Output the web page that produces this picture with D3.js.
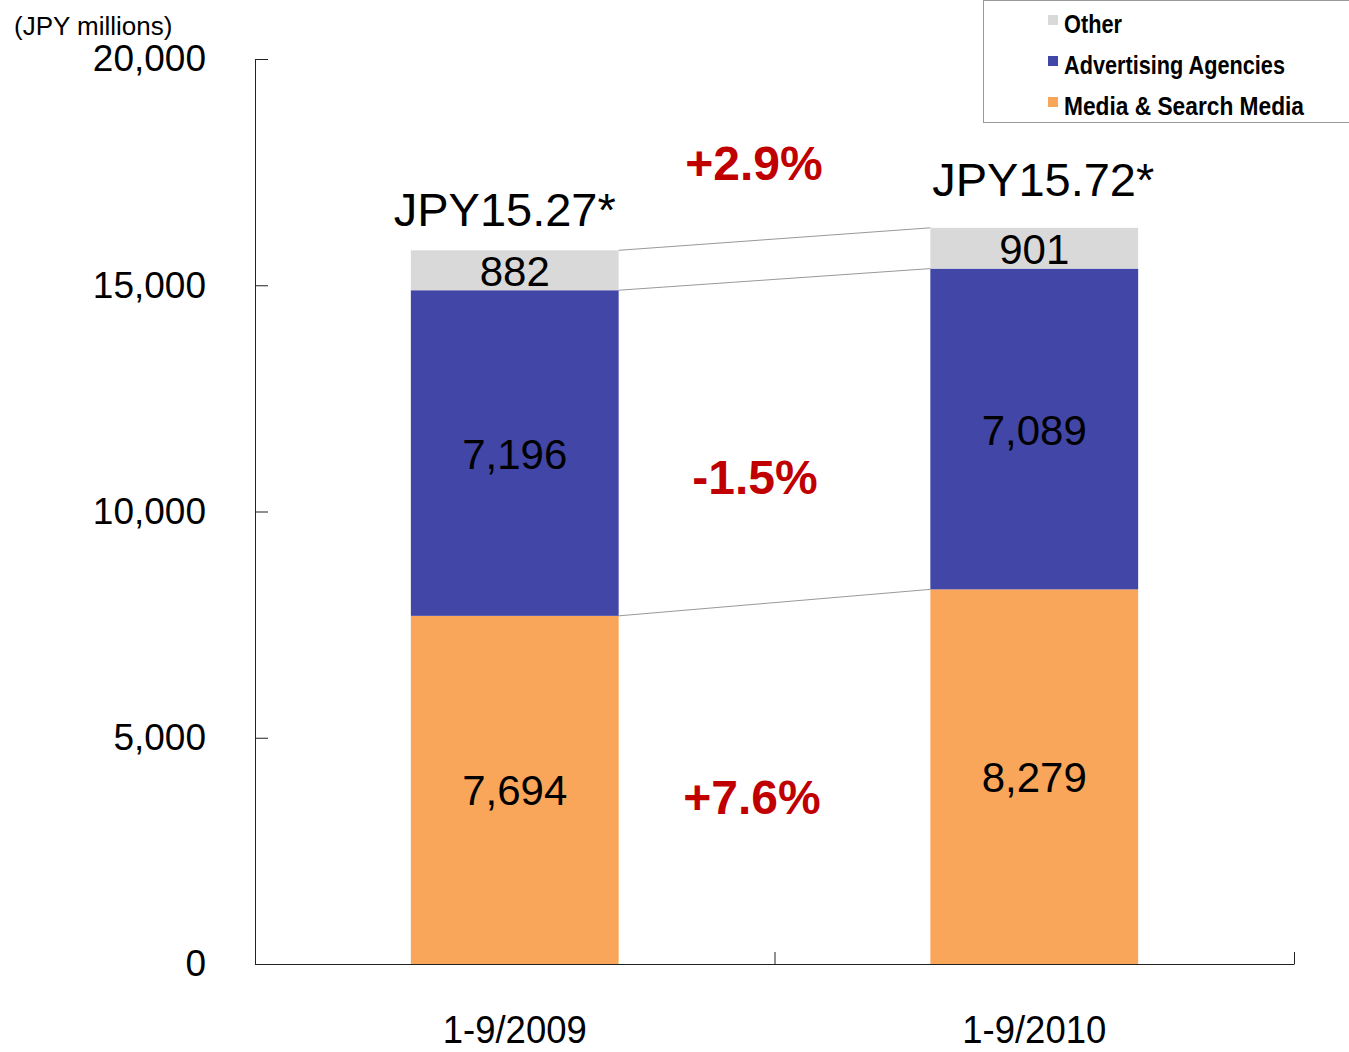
<!DOCTYPE html>
<html>
<head>
<meta charset="utf-8">
<script src="https://cdn.jsdelivr.net/npm/d3@7"></script>
<style>
  body { margin: 0; background: #fff; }
  text { font-family: "Liberation Sans", Arial, sans-serif; }
</style>
</head>
<body>
<div id="chart"></div>
<script>
var width = 1349, height = 1052;

// data
var periods = ["1-9/2009", "1-9/2010"];
var media = [7694, 8279];
var agencies = [7196, 7089];
var other = [882, 901];
var totalLabels = ["JPY15.27*", "JPY15.72*"];
var changeLabels = ["+7.6%", "-1.5%", "+2.9%"];
var yTicks = [0, 5000, 10000, 15000, 20000];
var seriesNames = ["Media & Search Media", "Advertising Agencies", "Other"];
var colors = ["#f9a55a", "#4146a7", "#d9d9d9"];

var svg = d3.select('#chart')
  .append('svg')
  .attr('width', width)
  .attr('height', height);

var y = d3.scaleLinear().domain([0, 20000]).range([964, 59]);
var x = d3.scaleBand().domain(periods).range([255, 1294])
  .paddingInner(0.6).paddingOuter(0.3);

// stack the rows
var rows = periods.map(function(p, i) {
  return { period: p, media: media[i], agencies: agencies[i], other: other[i] };
});
var stack = d3.stack().keys(["media", "agencies", "other"]);
var layers = stack(rows);

// connector lines between the bars
var bw = x.bandwidth();
layers.forEach(function(layer) {
  svg.append("line")
    .attr("x1", x(periods[0]) + bw)
    .attr("y1", y(layer[0][1]))
    .attr("x2", x(periods[1]))
    .attr("y2", y(layer[1][1]))
    .attr("stroke", "#999")
    .attr("stroke-width", 1);
});

// bars
layers.forEach(function(layer, li) {
  svg.append("g").selectAll("rect")
    .data(layer)
    .enter().append("rect")
      .attr("x", function(d) { return x(d.data.period); })
      .attr("y", function(d) { return y(d[1]); })
      .attr("width", bw)
      .attr("height", function(d) { return y(d[0]) - y(d[1]); })
      .attr("fill", colors[li]);

  svg.append("g").selectAll("text")
    .data(layer)
    .enter().append("text")
      .attr("x", function(d) { return x(d.data.period) + bw / 2; })
      .attr("y", function(d) { return (y(d[0]) + y(d[1])) / 2; })
      .attr("dy", "0.37em")
      .attr("text-anchor", "middle")
      .style("font-size", "42px")
      .style("fill", "#000")
      .text(function(d) { return d3.format(",")(d[1] - d[0]); });
});

// y axis
var yAxis = d3.axisLeft(y)
  .tickValues(yTicks)
  .tickSize(-13)
  .tickSizeOuter(0)
  .tickPadding(49)
  .tickFormat(d3.format(","));
var ya = svg.append("g").attr("transform", "translate(255,0)").call(yAxis);
ya.selectAll("text").style("font-size", "37px").style("fill", "#000")
  .style("font-family", "'Liberation Sans', Arial, sans-serif");
ya.selectAll("line, path").attr("stroke", "#222");

// x axis (ticks at band boundaries)
var xb = d3.scaleLinear().domain([0, 2]).range([255, 1294]);
var xAxis = d3.axisBottom(xb).tickValues([0, 1, 2]).tickSize(-12).tickSizeOuter(0)
  .tickFormat("");
var xa = svg.append("g").attr("transform", "translate(0,964)").call(xAxis);
xa.selectAll("line, path").attr("stroke", "#222");

// category labels
svg.append("g").selectAll("text")
  .data(periods)
  .enter().append("text")
    .attr("x", function(d) { return x(d) + bw / 2; })
    .attr("y", 1043)
    .attr("text-anchor", "middle")
    .attr("textLength", 144)
    .attr("lengthAdjust", "spacingAndGlyphs")
    .style("font-size", "38px")
    .text(function(d) { return d; });

// unit label
svg.append("text")
  .attr("x", 14).attr("y", 35)
  .style("font-size", "26px")
  .text("(JPY millions)");

// total labels above bars
var totalPos = [{ dx: -10, dy: -24 }, { dx: 9, dy: -32 }];
svg.append("g").selectAll("text")
  .data(totalLabels)
  .enter().append("text")
    .attr("x", function(d, i) { return x(periods[i]) + bw / 2 + totalPos[i].dx; })
    .attr("y", function(d, i) { return y(media[i] + agencies[i] + other[i]) + totalPos[i].dy; })
    .attr("text-anchor", "middle")
    .style("font-size", "47px")
    .text(function(d) { return d; });

// change labels
var changeY = [814, 494, 180];
var changeX = [752, 755, 754];
svg.append("g").selectAll("text")
  .data(changeLabels)
  .enter().append("text")
    .attr("x", function(d, i) { return changeX[i]; })
    .attr("y", function(d, i) { return changeY[i]; })
    .attr("text-anchor", "middle")
    .style("font-size", "48px")
    .style("font-weight", "bold")
    .style("fill", "#c00000")
    .text(function(d) { return d; });

// legend
var legend = svg.append("g");
legend.append("rect")
  .attr("x", 983.5).attr("y", 0.5)
  .attr("width", 380).attr("height", 122)
  .attr("fill", "#fff")
  .attr("stroke", "#999");
var legendItems = [2, 1, 0];
var legendWidths = [58, 221, 240];
legendItems.forEach(function(k, i) {
  legend.append("rect")
    .attr("x", 1048).attr("y", 15 + i * 41)
    .attr("width", 10).attr("height", 10)
    .attr("fill", colors[k]);
  legend.append("text")
    .attr("x", 1064).attr("y", 33 + i * 41)
    .attr("textLength", legendWidths[i])
    .attr("lengthAdjust", "spacingAndGlyphs")
    .style("font-size", "26px")
    .style("font-weight", "bold")
    .text(seriesNames[k]);
});
</script>
</body>
</html>
